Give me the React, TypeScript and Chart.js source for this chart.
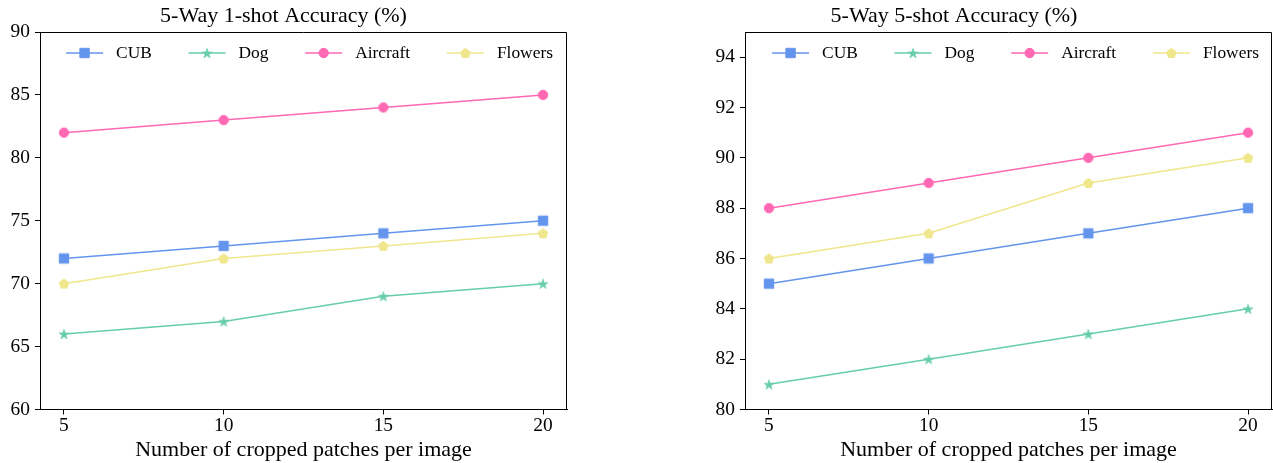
import React, { useEffect, useRef } from "react";
import { Chart, registerables } from "chart.js";

Chart.register(...registerables);

// ---------------- data ----------------
const patches = [5, 10, 15, 20];
const xTicks = [5, 10, 15, 20];
const seriesNames = ["CUB", "Dog", "Aircraft", "Flowers"];

const oneShotCUB = [72, 73, 74, 75];
const oneShotDog = [66, 67, 69, 70];
const oneShotAircraft = [82, 83, 84, 85];
const oneShotFlowers = [70, 72, 73, 74];
const oneShotYTicks = [60, 65, 70, 75, 80, 85, 90];

const fiveShotCUB = [85, 86, 87, 88];
const fiveShotDog = [81, 82, 83, 84];
const fiveShotAircraft = [88, 89, 90, 91];
const fiveShotFlowers = [86, 87, 89, 90];
const fiveShotYTicks = [80, 82, 84, 86, 88, 90, 92, 94];

const titleOne = "5-Way 1-shot Accuracy (%)";
const titleFive = "5-Way 5-shot Accuracy (%)";
const xTitle = "Number of cropped patches per image";

// ---------------- styles ----------------
const COLORS = ["#6495ED", "#66CDAA", "#FF69B4", "#F0E68C"];
const MARKERS = ["square", "star", "circle", "pentagon"];
const FONT = "'Liberation Serif', 'Times New Roman', Times, serif";
Chart.defaults.font.family = FONT;

const LEGEND_FS = 17.4;
const LEGEND_LINE = 37;
const LEGEND_TEXT_GAP = 13;
const LEGEND_GAP = 36.7;

function drawMarker(ctx: CanvasRenderingContext2D, kind: string, cx: number, cy: number, color: string) {
  ctx.fillStyle = color;
  ctx.strokeStyle = color;
  ctx.lineWidth = 1;
  ctx.lineJoin = "miter";
  ctx.beginPath();
  if (kind === "square") {
    const h = 4.7;
    ctx.rect(cx - h, cy - h, 2 * h, 2 * h);
  } else if (kind === "circle") {
    ctx.arc(cx, cy, 4.7, 0, Math.PI * 2);
  } else if (kind === "star") {
    const R = 5.3;
    const r = R * 0.381966;
    for (let i = 0; i < 10; i++) {
      const rr = i % 2 === 0 ? R : r;
      const a = -Math.PI / 2 + (i * Math.PI) / 5;
      const px = cx + rr * Math.cos(a);
      const py = cy + rr * Math.sin(a) + 0.6;
      if (i === 0) ctx.moveTo(px, py);
      else ctx.lineTo(px, py);
    }
    ctx.lineWidth = 0.6;
  } else {
    const R = 5;
    for (let i = 0; i < 5; i++) {
      const a = -Math.PI / 2 + (i * 2 * Math.PI) / 5;
      const px = cx + R * Math.cos(a);
      const py = cy + R * Math.sin(a) + 0.4;
      if (i === 0) ctx.moveTo(px, py);
      else ctx.lineTo(px, py);
    }
  }
  ctx.closePath();
  ctx.fill();
  ctx.stroke();
}

function markerIcon(kind: string, color: string) {
  const c = document.createElement("canvas");
  c.width = 14;
  c.height = 14;
  const ctx = c.getContext("2d")!;
  drawMarker(ctx, kind, 7, 7, color);
  return c;
}

const framePlugin = {
  id: "frame",
  afterDatasetsDraw(chart: any) {
    const { ctx, chartArea } = chart;
    const t = Math.round(chartArea.top) + 0.5;
    const r = Math.round(chartArea.right) - 0.5;
    const l = chartArea.left;
    const b = chartArea.bottom;
    ctx.save();
    ctx.strokeStyle = "#000";
    ctx.lineWidth = 1;
    ctx.beginPath();
    ctx.moveTo(l, t);
    ctx.lineTo(r, t);
    ctx.lineTo(r, b);
    ctx.stroke();
    ctx.restore();
  },
};

// legend drawn inside the plot area, in one row, like matplotlib's upper-center legend
function insideLegend(dx: number) {
  return {
    id: "insideLegend",
    afterDraw(chart: any) {
      const { ctx, chartArea } = chart;
      const dsets = chart.data.datasets;
      ctx.save();
      ctx.font = `${LEGEND_FS}px ${FONT}`;
      ctx.textBaseline = "middle";
      ctx.textAlign = "left";
      const widths = dsets.map((d: any) => ctx.measureText(d.label).width);
      const total =
        widths.reduce((a: number, w: number) => a + LEGEND_LINE + LEGEND_TEXT_GAP + w, 0) +
        LEGEND_GAP * (dsets.length - 1);
      let x = (chartArea.left + chartArea.right) / 2 + dx - total / 2;
      const y = chartArea.top + 21;
      dsets.forEach((d: any, i: number) => {
        ctx.strokeStyle = d.borderColor;
        ctx.lineWidth = 1.5;
        ctx.beginPath();
        ctx.moveTo(x, y);
        ctx.lineTo(x + LEGEND_LINE, y);
        ctx.stroke();
        drawMarker(ctx, MARKERS[i], x + LEGEND_LINE / 2, y, d.borderColor);
        ctx.fillStyle = "#000";
        ctx.fillText(d.label, x + LEGEND_LINE + LEGEND_TEXT_GAP, y);
        x += LEGEND_LINE + LEGEND_TEXT_GAP + widths[i] + LEGEND_GAP;
      });
      ctx.restore();
    },
  };
}

interface PanelParams {
  title: string;
  series: number[][];
  yMin: number;
  yMax: number;
  yTicks: number[];
  yWidth: number;
  padRight: number;
  legendDx: number;
}

function buildConfig(p: PanelParams): any {
  const mIcons = MARKERS.map((m, i) => markerIcon(m, COLORS[i]));
  const datasets = seriesNames.map((name, i) => ({
    label: name,
    data: patches.map((x, j) => ({ x, y: p.series[i][j] })),
    borderColor: COLORS[i],
    backgroundColor: COLORS[i],
    borderWidth: 1.5,
    pointStyle: mIcons[i],
    pointRadius: 5,
    pointHoverRadius: 5,
    tension: 0,
    fill: false,
  }));
  const tickFont = { size: 19.4, family: FONT };
  return {
    type: "line",
    data: { datasets },
    options: {
      animation: false,
      responsive: false,
      devicePixelRatio: 1,
      events: [],
      layout: { autoPadding: false, padding: { left: 0, right: p.padRight, top: 0, bottom: 0 } },
      plugins: {
        title: {
          display: true,
          text: p.title,
          color: "#000",
          font: { size: 22, weight: "normal", lineHeight: 1.2, family: FONT },
          padding: { top: 2.8, bottom: 2.8 },
        },
        legend: { display: false },
        tooltip: { enabled: false },
      },
      scales: {
        x: {
          type: "linear",
          min: 4.25,
          max: 20.75,
          afterBuildTicks: (s: any) => {
            s.ticks = xTicks.map((v) => ({ value: v }));
          },
          afterFit: (s: any) => {
            s.height = 53.5;
            s.paddingLeft = 0;
            s.paddingRight = 0;
          },
          grid: { drawOnChartArea: false, drawTicks: true, tickLength: 5, color: "#000", lineWidth: 1 },
          border: { display: true, color: "#000", width: 1 },
          ticks: { color: "#000", font: tickFont, padding: 0, maxRotation: 0, autoSkip: false },
          title: {
            display: true,
            text: xTitle,
            color: "#000",
            font: { size: 22, lineHeight: 1, family: FONT },
            padding: { top: 0, bottom: 2 },
          },
        },
        y: {
          type: "linear",
          min: p.yMin,
          max: p.yMax,
          afterBuildTicks: (s: any) => {
            s.ticks = p.yTicks.map((v) => ({ value: v }));
          },
          afterFit: (s: any) => {
            s.width = p.yWidth;
          },
          grid: { drawOnChartArea: false, drawTicks: true, tickLength: 5, color: "#000", lineWidth: 1 },
          border: { display: true, color: "#000", width: 1 },
          ticks: { color: "#000", font: tickFont, padding: 5, autoSkip: false },
        },
      },
    },
    plugins: [framePlugin, insideLegend(p.legendDx)],
  };
}

export default function App() {
  const leftRef = useRef<HTMLCanvasElement>(null);
  const rightRef = useRef<HTMLCanvasElement>(null);

  useEffect(() => {
    const left = new Chart(
      leftRef.current!,
      buildConfig({
        title: titleOne,
        series: [oneShotCUB, oneShotDog, oneShotAircraft, oneShotFlowers],
        yMin: 60,
        yMax: 90,
        yTicks: oneShotYTicks,
        yWidth: 40,
        padRight: 69,
        legendDx: 6,
      })
    );
    const right = new Chart(
      rightRef.current!,
      buildConfig({
        title: titleFive,
        series: [fiveShotCUB, fiveShotDog, fiveShotAircraft, fiveShotFlowers],
        yMin: 80,
        yMax: 95,
        yTicks: fiveShotYTicks,
        yWidth: 109,
        padRight: 1,
        legendDx: 7,
      })
    );
    return () => {
      left.destroy();
      right.destroy();
    };
  }, []);

  return (
    <div style={{ position: "absolute", left: 0, top: 0, width: 1273, height: 463, background: "#fff" }}>
      <canvas ref={leftRef} width={636} height={463} style={{ position: "absolute", left: 0, top: 0 }} />
      <canvas ref={rightRef} width={637} height={463} style={{ position: "absolute", left: 636, top: 0 }} />
    </div>
  );
}
